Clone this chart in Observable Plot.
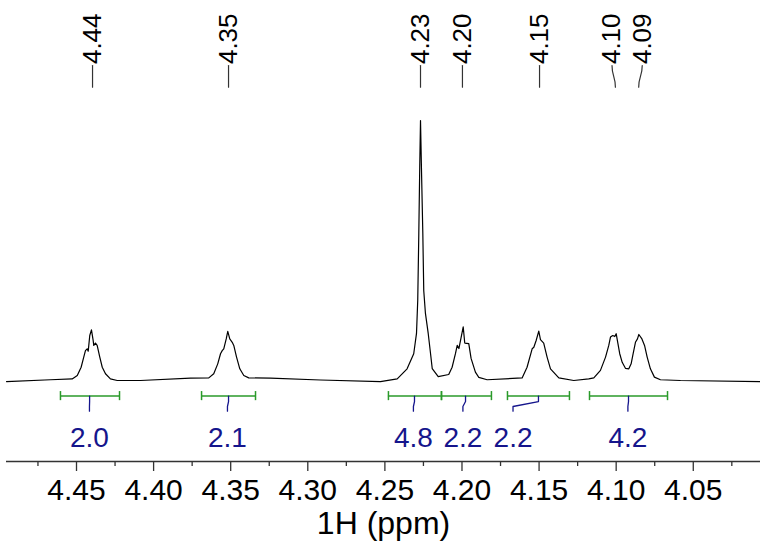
<!DOCTYPE html>
<html>
<head>
<meta charset="utf-8">
<script src="https://cdn.jsdelivr.net/npm/d3@7"></script>
<script src="https://cdn.jsdelivr.net/npm/@observablehq/plot@0.6"></script>
<style>
  html, body { margin: 0; padding: 0; background: #fff; }
  #chart svg { display: block; font-family: "Liberation Sans", Arial, sans-serif; }
</style>
</head>
<body>
<div id="chart"></div>
<script>
// ---- spectrum trace (chemical shift in ppm, relative intensity) ----
const spectrumPpm = [
  4.4954, 4.4669, 4.4528, 4.4495, 4.4470, 4.4453, 4.4442, 4.4431, 4.4424, 4.4414,
  4.4403, 4.4392, 4.4388, 4.4377, 4.4366, 4.4349, 4.4333, 4.4312, 4.4280, 4.4236,
  4.4085, 4.3761, 4.3642, 4.3610, 4.3584, 4.3566, 4.3555, 4.3545, 4.3529, 4.3519,
  4.3506, 4.3490, 4.3480, 4.3462, 4.3441, 4.3415, 4.3383, 4.3242, 4.2918, 4.2529,
  4.2420, 4.2356, 4.2313, 4.2295, 4.2287, 4.2280, 4.2274, 4.2269, 4.2263, 4.2254,
  4.2248, 4.2237, 4.2219, 4.2204, 4.2193, 4.2154, 4.2086, 4.2064, 4.2042, 4.2031,
  4.2020, 4.1992, 4.1982, 4.1956, 4.1941, 4.1913, 4.1891, 4.1837, 4.1610, 4.1578,
  4.1545, 4.1534, 4.1519, 4.1502, 4.1491, 4.1470, 4.1448, 4.1426, 4.1372, 4.1275,
  4.1178, 4.1145, 4.1102, 4.1069, 4.1048, 4.1037, 4.1022, 4.1009, 4.1000, 4.0990,
  4.0977, 4.0961, 4.0940, 4.0918, 4.0903, 4.0890, 4.0875, 4.0862, 4.0853, 4.0833,
  4.0816, 4.0799, 4.0778, 4.0752, 4.0713, 4.0583, 4.0064
];
const spectrumIntensity = [
  -0.4, 0.3, 0.6, 1.9, 5.1, 9.0, 11.5, 12.2, 11.3, 17.3,
  19.5, 15.4, 13.5, 14.4, 13.5, 9.0, 5.1, 2.6, 0.6, 0.0,
  0.0, 0.9, 1.0, 2.6, 6.4, 10.3, 11.5, 12.2, 16.0, 18.9,
  16.0, 14.7, 13.5, 9.0, 4.5, 1.9, 1.0, 0.9, 0.2, -0.4,
  0.6, 4.5, 10.3, 18.1, 30.8, 56.5, 82.0, 100.0, 82.0, 56.5,
  34.6, 25.8, 18.1, 10.4, 4.6, 1.5, 2.3, 5.1, 10.4, 13.5,
  12.3, 20.6, 14.4, 14.2, 8.5, 3.2, 1.2, 0.3, 1.0, 5.1,
  12.2, 12.8, 15.4, 19.0, 15.7, 14.4, 9.0, 4.5, 1.0, 0.0,
  0.6, 1.0, 3.9, 9.0, 13.5, 16.7, 17.3, 16.9, 18.0, 14.7,
  10.3, 7.0, 4.7, 4.5, 6.4, 10.3, 14.7, 16.0, 17.7, 16.0,
  13.5, 9.0, 4.5, 1.3, 0.3, 0.0, -0.4
];

// ---- peak picking labels ----
const peakLabels   = ["4.44", "4.35", "4.23", "4.20", "4.15", "4.10", "4.09"];
const peakPpm      = [4.4396, 4.3514, 4.2269, 4.1997, 4.1497, 4.1005, 4.0854];
const peakLabelPpm = [4.4396, 4.3514, 4.2269, 4.1997, 4.1497, 4.1027, 4.0831];

// ---- integrals ----
const integralFrom     = [4.4604, 4.3689, 4.2477, 4.2133, 4.1705, 4.1173];
const integralTo       = [4.4221, 4.3339, 4.2133, 4.1809, 4.1303, 4.0667];
const integralValues   = ["2.0", "2.1", "4.8", "2.2", "2.2", "4.2"];
const integralTickPpm  = [4.4415, 4.3514, 4.2308, 4.1977, 4.1504, 4.0920];
const integralLabelPpm = [4.4416, 4.3521, 4.2315, 4.1994, 4.1669, 4.0924];

// ---- axis ticks ----
const majorTicks = [4.45, 4.40, 4.35, 4.30, 4.25, 4.20, 4.15, 4.10, 4.05];
const minorTicks = [4.475, 4.425, 4.375, 4.325, 4.275, 4.225, 4.175, 4.125, 4.075, 4.025];
const xDomain = [4.4954, 4.0064];
const yDomain = [-31.15, 146.15];

// layout levels (intensity units)
const BAR_Y = -6.0, CAP_HALF = 1.75;
const CONN_Y = [-6.0, -8.1, -10.0, -11.8];
const INT_LABEL_Y = -22.3;
const PEAK_LINE_TOP = 121.15, PEAK_LINE_BOTTOM = 112.8, PEAK_TEXT_Y = 121.7;

const GREEN = "#2a9a2a";
const NAVY = "#15158c";

// build tables
const spectrum = spectrumPpm.map((x, i) => ({x, y: spectrumIntensity[i]}));
const peaks = peakLabels.map((label, i) => ({label, ppm: peakPpm[i], labelPpm: peakLabelPpm[i]}));
const peakLines = peaks.flatMap((p, i) => [
  {i, x: p.labelPpm, y: PEAK_LINE_TOP},
  {i, x: p.ppm, y: PEAK_LINE_BOTTOM}
]);
const integrals = integralValues.map((value, i) => ({
  value, from: integralFrom[i], to: integralTo[i],
  tick: integralTickPpm[i], labelPpm: integralLabelPpm[i]
}));
const caps = integrals.flatMap(d => [d.from, d.to]);
const connectors = integrals.flatMap((d, i) => [
  {i, x: d.tick, y: CONN_Y[0]},
  {i, x: d.tick, y: CONN_Y[1]},
  {i, x: d.labelPpm, y: CONN_Y[2]},
  {i, x: d.labelPpm, y: CONN_Y[3]}
]);

const chart = Plot.plot({
  width: 760,
  height: 545,
  marginLeft: 6,
  marginRight: 0,
  marginTop: 0,
  marginBottom: 84,
  style: {fontFamily: '"Liberation Sans", Arial, sans-serif', background: "#fff", color: "#000"},
  x: {domain: xDomain},
  y: {domain: yDomain, axis: null},
  marks: [
    // spectrum
    Plot.line(spectrum, {x: "x", y: "y", stroke: "#000", strokeWidth: 1.2}),
    // peak labels
    Plot.line(peakLines, {x: "x", y: "y", z: "i", curve: "bump-y", stroke: "#333", strokeWidth: 1.2}),
    Plot.text(peaks, {x: "labelPpm", y: () => PEAK_TEXT_Y, text: "label", rotate: -90,
      textAnchor: "start", lineAnchor: "middle", fontSize: 26, fill: "#000"}),
    // integrals
    Plot.ruleY(integrals, {x1: "from", x2: "to", y: () => BAR_Y, stroke: GREEN, strokeWidth: 1.5}),
    Plot.ruleX(caps, {x: d => d, y1: BAR_Y + CAP_HALF, y2: BAR_Y - CAP_HALF, stroke: GREEN, strokeWidth: 1.5}),
    Plot.line(connectors, {x: "x", y: "y", z: "i", stroke: NAVY, strokeWidth: 1.3}),
    Plot.text(integrals, {x: "labelPpm", y: () => INT_LABEL_Y, text: "value", fontSize: 28,
      fill: NAVY, lineAnchor: "middle"}),
    // x axis
    Plot.ruleY([yDomain[0]], {stroke: "#333", strokeWidth: 1.5}),
    Plot.axisX(majorTicks, {tickSize: 10, tickPadding: 7, fontSize: 30,
      tickFormat: d => d.toFixed(2), label: null, stroke: "#333", strokeWidth: 1.3}),
    Plot.axisX(minorTicks, {tickSize: 5, tickFormat: () => "", label: null, stroke: "#333", strokeWidth: 1.3}),
    Plot.text(["1H (ppm)"], {frameAnchor: "bottom", dy: 62, fontSize: 32, fill: "#000", lineAnchor: "middle"})
  ]
});
document.getElementById("chart").appendChild(chart);
</script>
</body>
</html>
